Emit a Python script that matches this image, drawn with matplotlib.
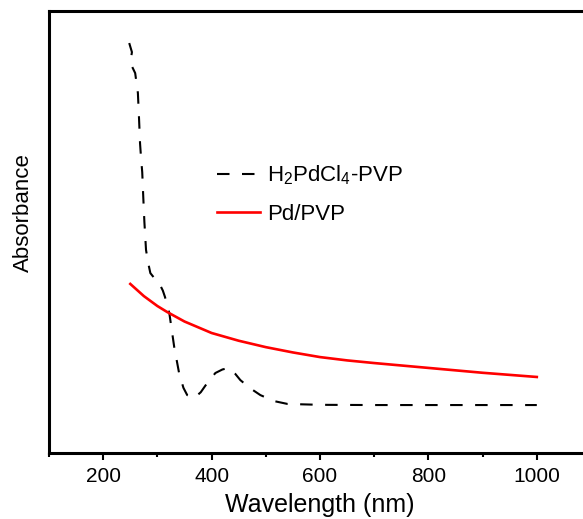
import matplotlib
matplotlib.use("Agg")
import matplotlib.pyplot as plt
from matplotlib.ticker import MultipleLocator

# UV-vis spectra, values (arbitrary absorbance units)
H2PDCL4_WL = [248, 253, 250, 259, 264, 266, 268, 270, 272, 274, 276, 279, 283,
              287, 298, 306, 310, 314, 322, 331, 340, 348, 355, 368, 380, 392,
              407, 420, 432, 443, 453, 470, 490, 515, 540, 600, 700, 800, 900, 1000]
H2PDCL4_ABS = [1.855, 1.814, 1.765, 1.719, 1.629, 1.52, 1.40, 1.33, 1.271, 1.154,
               1.045, 0.919, 0.86, 0.814, 0.78, 0.755, 0.735, 0.706, 0.633, 0.48,
               0.362, 0.295, 0.262, 0.249, 0.275, 0.317, 0.362, 0.378, 0.385, 0.36,
               0.330, 0.295, 0.262, 0.235, 0.222, 0.218, 0.217, 0.217, 0.217, 0.217]

PD_WL = [250, 275, 300, 318, 350, 400, 450, 500, 550, 600, 650, 700, 800, 900, 1000]
PD_ABS = [0.765, 0.71, 0.665, 0.638, 0.595, 0.543, 0.508, 0.479, 0.455, 0.434,
          0.419, 0.407, 0.385, 0.363, 0.344]

plt.rcParams["font.family"] = ["Liberation Sans", "DejaVu Sans"]

fig = plt.figure(figsize=(5.83, 5.19), dpi=100)
# axes run past the right edge (the reference is cropped there)
ax = fig.add_axes([49 / 583, 66 / 519, 542 / 583, 442 / 519])

ax.plot(H2PDCL4_WL, H2PDCL4_ABS, color="black", lw=1.5, dashes=(6, 6),
        label=r"H$_\mathregular{2}$PdCl$_\mathregular{4}$-PVP")
ax.plot(PD_WL, PD_ABS, color="#ff0000", lw=1.9, label="Pd/PVP")

ax.set_xlim(100, 1100)
ax.set_ylim(0, 2.0)
ax.xaxis.set_major_locator(MultipleLocator(200))
ax.xaxis.set_minor_locator(MultipleLocator(100))
ax.set_xticks([200, 400, 600, 800, 1000])
ax.set_yticks([])
ax.tick_params(axis="x", which="major", direction="out", length=5, width=1.5,
               labelsize=15, pad=5)
ax.tick_params(axis="x", which="minor", direction="out", length=3, width=1.5)
for side in ["left", "bottom", "top"]:
    ax.spines[side].set_linewidth(2.2)
ax.spines["right"].set_visible(False)

ax.set_xlabel("Wavelength (nm)", fontsize=18, labelpad=5)
ax.set_ylabel("Absorbance", fontsize=16)
ax.yaxis.set_label_coords(-0.028, 0.545)

ax.legend(loc="upper left", bbox_to_anchor=(0.31, 0.655), frameon=False,
          fontsize=16, handlelength=1.95, handletextpad=0.32, borderpad=0,
          borderaxespad=0, labelspacing=0.75)

fig.savefig("out.png", dpi=100)
